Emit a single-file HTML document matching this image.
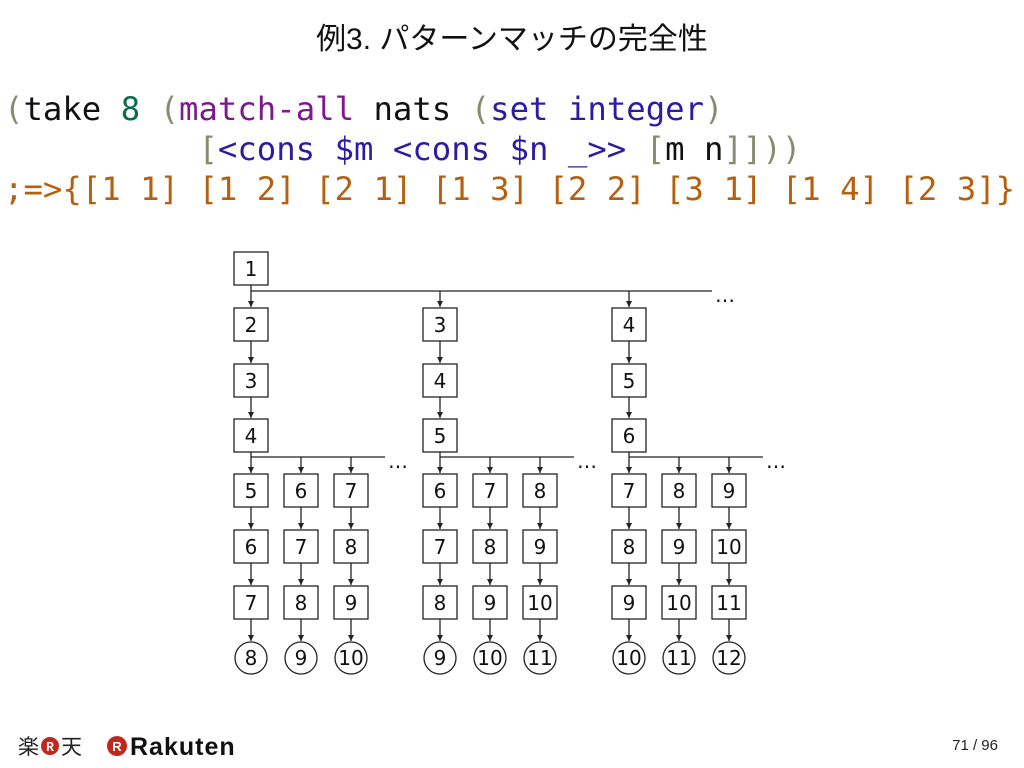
<!DOCTYPE html>
<html><head><meta charset="utf-8"><style>
body{margin:0;width:1024px;height:768px;background:#fff;position:relative;overflow:hidden;font-family:"Liberation Sans","Noto Sans CJK JP",sans-serif}
.t{position:absolute;top:14px;left:0;width:1024px;text-align:center;font-size:30px;color:#111}
.c{position:absolute;left:4px;font-family:"DejaVu Sans Mono","Liberation Mono",monospace;font-size:32.3px;white-space:pre;line-height:40px}
.g{color:#8a8a70}.k{color:#111}.n{color:#0b6b4b}.p{color:#7b1a8b}.b{color:#2c1ca0}.o{color:#b4600f}
.pg{position:absolute;right:26px;top:737px;font-size:15px;color:#222}
</style></head><body>
<div class="t">例3. パターンマッチの完全性</div>
<div class="c" style="top:89px"><span class="g">(</span><span class="k">take </span><span class="n">8</span><span class="g"> (</span><span class="p">match-all</span><span class="k"> nats </span><span class="g">(</span><span class="b">set integer</span><span class="g">)</span></div>
<div class="c" style="top:129px">          <span class="g">[</span><span class="b">&lt;cons $m &lt;cons $n _&gt;&gt;</span><span class="g"> [</span><span class="k">m n</span><span class="g">]]))</span></div>
<div class="c o" style="top:169px">;=&gt;{[1 1] [1 2] [2 1] [1 3] [2 2] [3 1] [1 4] [2 3]}</div>
<svg width="1024" height="768" style="position:absolute;left:0;top:0" font-family="DejaVu Sans, Liberation Sans, sans-serif" font-size="20">
<defs><marker id="a" markerWidth="8" markerHeight="8" refX="6" refY="3" orient="auto" markerUnits="userSpaceOnUse"><path d="M0,0 L6,3 L0,6 Z" fill="#222"/></marker></defs>
<g stroke="#222" stroke-width="1.3" fill="none">
<line x1="251" y1="291" x2="712" y2="291"/>
<line x1="251" y1="457" x2="385" y2="457"/><line x1="440" y1="457" x2="574" y2="457"/><line x1="629" y1="457" x2="763" y2="457"/>
<rect x="234" y="252" width="34" height="33"/>
<line x1="251" y1="285" x2="251" y2="307" marker-end="url(#a)"/>
<line x1="440" y1="291" x2="440" y2="307" marker-end="url(#a)"/>
<line x1="629" y1="291" x2="629" y2="307" marker-end="url(#a)"/>
</g>
<g fill="#111" text-anchor="middle">
<text x="251" y="276">1</text>
<text x="725" y="302">…</text><text x="398" y="468">…</text><text x="587" y="468">…</text><text x="776" y="468">…</text>
</g>
<g stroke="#222" stroke-width="1.3" fill="none">
<rect x="234" y="308" width="34" height="33"/><rect x="234" y="364" width="34" height="33"/><rect x="234" y="419" width="34" height="33"/>
<rect x="423" y="308" width="34" height="33"/><rect x="423" y="364" width="34" height="33"/><rect x="423" y="419" width="34" height="33"/>
<rect x="612" y="308" width="34" height="33"/><rect x="612" y="364" width="34" height="33"/><rect x="612" y="419" width="34" height="33"/>
<line x1="251" y1="341" x2="251" y2="363" marker-end="url(#a)"/><line x1="251" y1="397" x2="251" y2="418" marker-end="url(#a)"/><line x1="251" y1="452" x2="251" y2="473" marker-end="url(#a)"/>
<line x1="440" y1="341" x2="440" y2="363" marker-end="url(#a)"/><line x1="440" y1="397" x2="440" y2="418" marker-end="url(#a)"/><line x1="440" y1="452" x2="440" y2="473" marker-end="url(#a)"/>
<line x1="629" y1="341" x2="629" y2="363" marker-end="url(#a)"/><line x1="629" y1="397" x2="629" y2="418" marker-end="url(#a)"/><line x1="629" y1="452" x2="629" y2="473" marker-end="url(#a)"/>
</g>
<g fill="#111" text-anchor="middle">
<text x="251" y="332">2</text><text x="251" y="388">3</text><text x="251" y="443">4</text>
<text x="440" y="332">3</text><text x="440" y="388">4</text><text x="440" y="443">5</text>
<text x="629" y="332">4</text><text x="629" y="388">5</text><text x="629" y="443">6</text>
</g>
<g stroke="#222" stroke-width="1.3" fill="none">
<line x1="301" y1="457" x2="301" y2="473" marker-end="url(#a)"/><line x1="351" y1="457" x2="351" y2="473" marker-end="url(#a)"/>
<line x1="490" y1="457" x2="490" y2="473" marker-end="url(#a)"/><line x1="540" y1="457" x2="540" y2="473" marker-end="url(#a)"/>
<line x1="679" y1="457" x2="679" y2="473" marker-end="url(#a)"/><line x1="729" y1="457" x2="729" y2="473" marker-end="url(#a)"/>
</g>
<g stroke="#222" stroke-width="1.3" fill="none">
<g transform="translate(251,0)"><rect x="-17" y="474" width="34" height="33"/><rect x="-17" y="530" width="34" height="33"/><rect x="-17" y="586" width="34" height="33"/><circle cx="0" cy="658" r="16"/><line x1="0" y1="507" x2="0" y2="529" marker-end="url(#a)"/><line x1="0" y1="563" x2="0" y2="585" marker-end="url(#a)"/><line x1="0" y1="619" x2="0" y2="641" marker-end="url(#a)"/></g>
<g transform="translate(301,0)"><rect x="-17" y="474" width="34" height="33"/><rect x="-17" y="530" width="34" height="33"/><rect x="-17" y="586" width="34" height="33"/><circle cx="0" cy="658" r="16"/><line x1="0" y1="507" x2="0" y2="529" marker-end="url(#a)"/><line x1="0" y1="563" x2="0" y2="585" marker-end="url(#a)"/><line x1="0" y1="619" x2="0" y2="641" marker-end="url(#a)"/></g>
<g transform="translate(351,0)"><rect x="-17" y="474" width="34" height="33"/><rect x="-17" y="530" width="34" height="33"/><rect x="-17" y="586" width="34" height="33"/><circle cx="0" cy="658" r="16"/><line x1="0" y1="507" x2="0" y2="529" marker-end="url(#a)"/><line x1="0" y1="563" x2="0" y2="585" marker-end="url(#a)"/><line x1="0" y1="619" x2="0" y2="641" marker-end="url(#a)"/></g>
<g transform="translate(440,0)"><rect x="-17" y="474" width="34" height="33"/><rect x="-17" y="530" width="34" height="33"/><rect x="-17" y="586" width="34" height="33"/><circle cx="0" cy="658" r="16"/><line x1="0" y1="507" x2="0" y2="529" marker-end="url(#a)"/><line x1="0" y1="563" x2="0" y2="585" marker-end="url(#a)"/><line x1="0" y1="619" x2="0" y2="641" marker-end="url(#a)"/></g>
<g transform="translate(490,0)"><rect x="-17" y="474" width="34" height="33"/><rect x="-17" y="530" width="34" height="33"/><rect x="-17" y="586" width="34" height="33"/><circle cx="0" cy="658" r="16"/><line x1="0" y1="507" x2="0" y2="529" marker-end="url(#a)"/><line x1="0" y1="563" x2="0" y2="585" marker-end="url(#a)"/><line x1="0" y1="619" x2="0" y2="641" marker-end="url(#a)"/></g>
<g transform="translate(540,0)"><rect x="-17" y="474" width="34" height="33"/><rect x="-17" y="530" width="34" height="33"/><rect x="-17" y="586" width="34" height="33"/><circle cx="0" cy="658" r="16"/><line x1="0" y1="507" x2="0" y2="529" marker-end="url(#a)"/><line x1="0" y1="563" x2="0" y2="585" marker-end="url(#a)"/><line x1="0" y1="619" x2="0" y2="641" marker-end="url(#a)"/></g>
<g transform="translate(629,0)"><rect x="-17" y="474" width="34" height="33"/><rect x="-17" y="530" width="34" height="33"/><rect x="-17" y="586" width="34" height="33"/><circle cx="0" cy="658" r="16"/><line x1="0" y1="507" x2="0" y2="529" marker-end="url(#a)"/><line x1="0" y1="563" x2="0" y2="585" marker-end="url(#a)"/><line x1="0" y1="619" x2="0" y2="641" marker-end="url(#a)"/></g>
<g transform="translate(679,0)"><rect x="-17" y="474" width="34" height="33"/><rect x="-17" y="530" width="34" height="33"/><rect x="-17" y="586" width="34" height="33"/><circle cx="0" cy="658" r="16"/><line x1="0" y1="507" x2="0" y2="529" marker-end="url(#a)"/><line x1="0" y1="563" x2="0" y2="585" marker-end="url(#a)"/><line x1="0" y1="619" x2="0" y2="641" marker-end="url(#a)"/></g>
<g transform="translate(729,0)"><rect x="-17" y="474" width="34" height="33"/><rect x="-17" y="530" width="34" height="33"/><rect x="-17" y="586" width="34" height="33"/><circle cx="0" cy="658" r="16"/><line x1="0" y1="507" x2="0" y2="529" marker-end="url(#a)"/><line x1="0" y1="563" x2="0" y2="585" marker-end="url(#a)"/><line x1="0" y1="619" x2="0" y2="641" marker-end="url(#a)"/></g>
</g>
<g fill="#111" text-anchor="middle">
<text x="251" y="498">5</text><text x="251" y="554">6</text><text x="251" y="610">7</text><text x="251" y="665">8</text>
<text x="301" y="498">6</text><text x="301" y="554">7</text><text x="301" y="610">8</text><text x="301" y="665">9</text>
<text x="351" y="498">7</text><text x="351" y="554">8</text><text x="351" y="610">9</text><text x="351" y="665">10</text>
<text x="440" y="498">6</text><text x="440" y="554">7</text><text x="440" y="610">8</text><text x="440" y="665">9</text>
<text x="490" y="498">7</text><text x="490" y="554">8</text><text x="490" y="610">9</text><text x="490" y="665">10</text>
<text x="540" y="498">8</text><text x="540" y="554">9</text><text x="540" y="610">10</text><text x="540" y="665">11</text>
<text x="629" y="498">7</text><text x="629" y="554">8</text><text x="629" y="610">9</text><text x="629" y="665">10</text>
<text x="679" y="498">8</text><text x="679" y="554">9</text><text x="679" y="610">10</text><text x="679" y="665">11</text>
<text x="729" y="498">9</text><text x="729" y="554">10</text><text x="729" y="610">11</text><text x="729" y="665">12</text>
</g>
<g font-family="Noto Sans CJK JP, sans-serif" font-size="21" fill="#222">
<text x="18" y="754">楽</text><circle cx="50" cy="746" r="9" fill="#c0281e"/><text x="50" y="751" font-size="12" fill="#fff" text-anchor="middle" font-weight="bold">R</text><text x="61" y="754">天</text>
</g>
<circle cx="117" cy="746" r="10" fill="#c0281e"/><text x="117" y="751" font-size="13" fill="#fff" text-anchor="middle" font-weight="bold" font-family="Liberation Sans, sans-serif">R</text>
<text x="130" y="755" font-size="25" font-weight="bold" fill="#111" font-family="Liberation Sans, sans-serif" letter-spacing="1">Rakuten</text>
</svg>
<div class="pg">71 / 96</div>
</body></html>
